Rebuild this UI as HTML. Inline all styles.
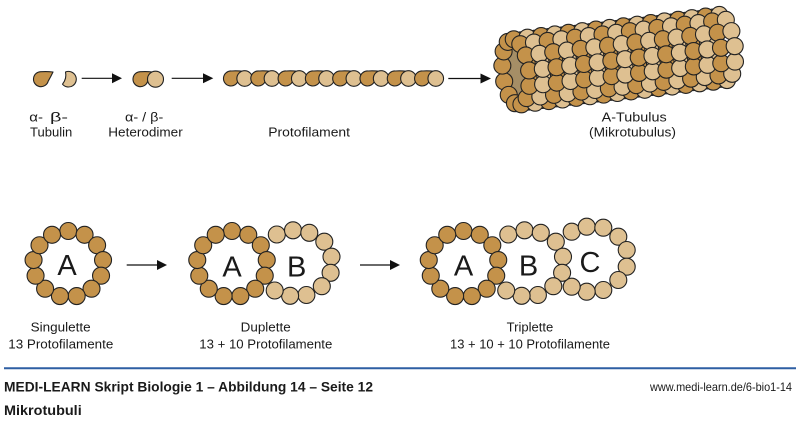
<!DOCTYPE html>
<html>
<head>
<meta charset="utf-8">
<style>
html,body{margin:0;padding:0;background:#fff;}
body{width:800px;height:422px;overflow:hidden;}
svg{display:block;}
text{font-family:"Liberation Sans",sans-serif;fill:#1a1a1a;}
</style>
</head>
<body>
<svg id="s" width="800" height="422" viewBox="0 0 800 422" xmlns="http://www.w3.org/2000/svg">
<rect width="800" height="422" fill="#fff"/>
<g id="tub"></g>
<g id="top" stroke="#222" stroke-width="1.1"></g>
<g id="rings" stroke="#222" stroke-width="1.1"></g>

<!-- arrows -->
<g stroke="#111" stroke-width="1.2" fill="#111">
  <line x1="81.7" y1="78.3" x2="113" y2="78.3"/><polygon points="112,73.3 122,78.3 112,83.3" stroke="none"/>
  <line x1="171.7" y1="78.3" x2="204" y2="78.3"/><polygon points="203,73.3 213.3,78.3 203,83.3" stroke="none"/>
  <line x1="448.3" y1="78.5" x2="482" y2="78.5"/><polygon points="480.5,73.5 491,78.5 480.5,83.5" stroke="none"/>
  <line x1="126.7" y1="265" x2="158" y2="265"/><polygon points="157,260 167,265 157,270" stroke="none"/>
  <line x1="360" y1="265" x2="391" y2="265"/><polygon points="390,260 400,265 390,270" stroke="none"/>
</g>

<!-- top labels -->
<g font-size="13">
  <text x="29.3" y="121.5" textLength="13.7" lengthAdjust="spacingAndGlyphs">α-</text>
  <text x="50" y="121.5" textLength="18" lengthAdjust="spacingAndGlyphs">β-</text>
  <text x="30" y="136.5" textLength="42.3" lengthAdjust="spacingAndGlyphs">Tubulin</text>
  <text x="125" y="121.5" textLength="38.3" lengthAdjust="spacingAndGlyphs">α- / β-</text>
  <text x="108.3" y="136.5" textLength="74.4" lengthAdjust="spacingAndGlyphs">Heterodimer</text>
  <text x="268.3" y="136.5" textLength="81.7" lengthAdjust="spacingAndGlyphs">Protofilament</text>
  <text x="601.7" y="121.5" textLength="65" lengthAdjust="spacingAndGlyphs">A-Tubulus</text>
  <text x="589" y="136.5" textLength="87" lengthAdjust="spacingAndGlyphs">(Mikrotubulus)</text>

  <text x="30.7" y="331.5" textLength="60" lengthAdjust="spacingAndGlyphs">Singulette</text>
  <text x="8.3" y="348.3" textLength="105" lengthAdjust="spacingAndGlyphs">13 Protofilamente</text>
  <text x="240.7" y="331.5" textLength="50" lengthAdjust="spacingAndGlyphs">Duplette</text>
  <text x="199.3" y="348.3" textLength="133" lengthAdjust="spacingAndGlyphs">13 + 10 Protofilamente</text>
  <text x="506.7" y="331.5" textLength="46.6" lengthAdjust="spacingAndGlyphs">Triplette</text>
  <text x="450" y="348.5" textLength="160" lengthAdjust="spacingAndGlyphs">13 + 10 + 10 Protofilamente</text>
</g>

<!-- ring letters -->
<g font-size="29" text-anchor="middle" fill="#111">
  <text x="67" y="275">A</text>
  <text x="232" y="276.5">A</text>
  <text x="296.7" y="276.5">B</text>
  <text x="463.5" y="275.5">A</text>
  <text x="528.5" y="275.5">B</text>
  <text x="590" y="272">C</text>
</g>

<!-- footer -->
<line x1="4" y1="368.3" x2="796" y2="368.3" stroke="#2e5fa3" stroke-width="2"/>
<text x="4" y="391.5" font-size="14" font-weight="bold" textLength="369" lengthAdjust="spacingAndGlyphs">MEDI-LEARN Skript Biologie 1 – Abbildung 14 – Seite 12</text>
<text x="4" y="415" font-size="14" font-weight="bold" textLength="77.7" lengthAdjust="spacingAndGlyphs">Mikrotubuli</text>
<text x="650" y="391" font-size="12" fill="#333" textLength="142" lengthAdjust="spacingAndGlyphs">www.medi-learn.de/6-bio1-14</text>
</svg>

<script>
(function(){
var NS='http://www.w3.org/2000/svg';
var D='#c4924a', L='#dec091', IN='#a58e66', ST='#222';
function el(parent,tag,attrs){var e=document.createElementNS(NS,tag);for(var k in attrs)e.setAttribute(k,attrs[k]);parent.appendChild(e);return e;}
function circ(g,x,y,r,f){return el(g,'circle',{cx:x.toFixed(2),cy:y.toFixed(2),r:r,fill:f,stroke:ST,'stroke-width':1.1});}
function tear(g,cx,cy){
  var p='M'+(cx+12)+','+(cy-7.2)+' Q'+(cx+6)+','+(cy-7.9)+' '+(cx+0.5)+','+(cy-7.5)+
        ' A7.5,7.5 0 1 0 '+(cx+7.2)+','+(cy+2)+' Q'+(cx+10)+','+(cy-3)+' '+(cx+12)+','+(cy-7.2)+' Z';
  el(g,'path',{d:p,fill:D,stroke:ST,'stroke-width':1.1,'stroke-linejoin':'round'});
}
var top=document.getElementById('top');
// alpha standalone
tear(top,41,79.2);
// beta standalone
el(top,'path',{d:'M65.5,72 A7.8,7.8 0 1 1 62.5,84.2 Q67,78.5 65.5,72 Z',fill:L,stroke:ST,'stroke-width':1.1,'stroke-linejoin':'round'});
// heterodimer
tear(top,140.5,79.2);
circ(top,155.5,79.2,8,L);
// protofilament
for(var i=0;i<8;i++){
  var x=231+27.3*i;
  tear(top,x,78.5);
  circ(top,x+13.65,78.5,7.8,L);
}

// rings
var rg=document.getElementById('rings');
var R=8.5;
function ringA(cx,cy){
  for(var i=0;i<13;i++){var a=2*Math.PI*i/13;circ(rg,cx+35*Math.sin(a),cy-33*Math.cos(a),R,D);}
}
var Boff=[[44.8,-29.5],[61,-33.7],[77.3,-31.2],[92.3,-22.3],[99.5,-7.3],[98.6,8.8],[89.8,22.2],[74.4,31],[58.1,31.8],[42.7,26.5]];
var Coff=[[108.2,-32.3],[123.2,-37.3],[139.8,-36.3],[154.8,-27.3],[163.2,-14],[163.2,2.7],[154.8,16],[139.8,26],[123.2,27.7],[108.2,22.7]];
function ringOff(cx,cy,off){for(var i=0;i<off.length;i++)circ(rg,cx+off[i][0],cy+off[i][1],R,L);}
ringA(68.3,264);
ringOff(232,264,Boff); ringA(232,264);
ringOff(463.5,264,Coff); ringOff(463.5,264,Boff); ringA(463.5,264);

// tubulus
var tg=document.getElementById('tub');
var A0=[516,72], d=[0.9931,-0.1174], n=[0.1174,0.9931];
var Rc=33,k=0.4,s=13.8,N=16,M=13,r=8.5;
var items=[];
for(var j=0;j<M;j++){
  var phi=2*Math.PI*j/M+0.12, sp=Math.sin(phi), cp=Math.cos(phi);
  for(var t=0;t<N;t++){
    var al=t*s+k*Rc*sp, pe=Rc*cp;
    items.push({x:A0[0]+al*d[0]+pe*n[0], y:A0[1]+al*d[1]+pe*n[1], z:sp, t:t, f:(t%2==0?D:L)});
  }
}
items.sort(function(a,b){ if(Math.abs(a.z-b.z)>1e-6) return a.z-b.z; return a.t-b.t;});
var far=items.filter(function(o){return o.z<0;});
var near=items.filter(function(o){return o.z>=0;});
far.forEach(function(o){ if(o.t>=1) circ(tg,o.x,o.y,r,o.f);});
var ang=Math.atan2(d[1],d[0])*180/Math.PI;
el(tg,'ellipse',{cx:A0[0],cy:A0[1],rx:k*Rc+1,ry:Rc,fill:IN,transform:'rotate('+ang.toFixed(2)+' '+A0[0]+' '+A0[1]+')'});
far.forEach(function(o){ if(o.t==0) circ(tg,o.x,o.y,r,o.f);});
near.forEach(function(o){ circ(tg,o.x,o.y,r,o.f);});
})();
</script>
</body>
</html>
